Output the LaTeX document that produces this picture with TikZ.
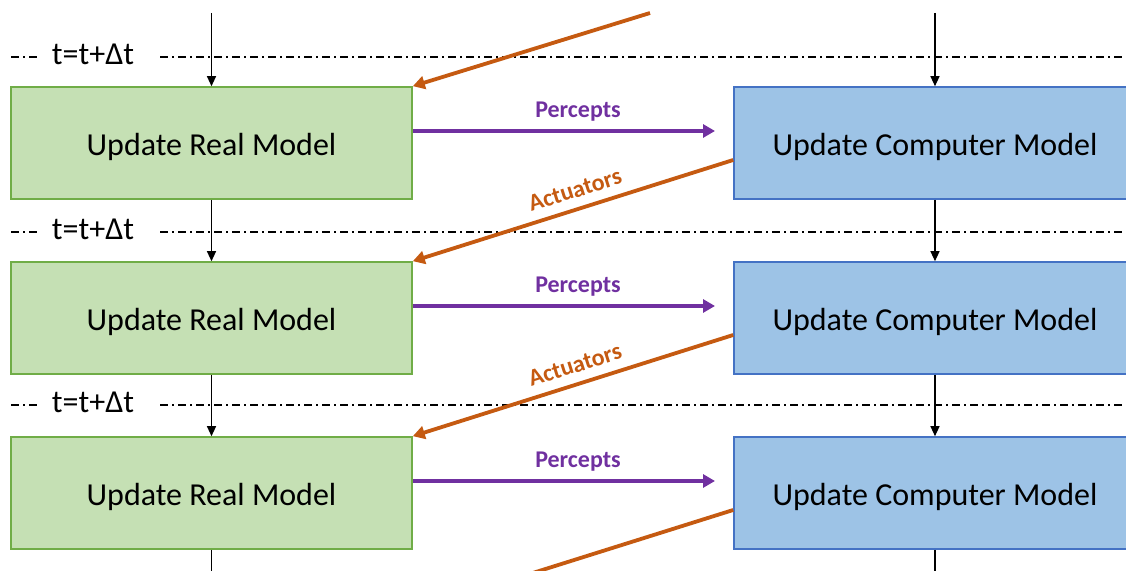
\documentclass[tikz,border=0pt]{standalone}
\usepackage{fontspec}
\setmainfont{Carlito}
\usetikzlibrary{arrows.meta,calc}
\definecolor{gfill}{HTML}{C5E0B4}
\definecolor{gdraw}{HTML}{70AD47}
\definecolor{bfill}{HTML}{9DC3E6}
\definecolor{bdraw}{HTML}{4472C4}
\definecolor{perc}{HTML}{7030A0}
\definecolor{actc}{HTML}{C55A11}
\begin{document}
\begin{tikzpicture}[x=0.5pt,y=-0.5pt,
  realbox/.style={draw=gdraw,fill=gfill,line width=0.8pt,minimum width=200.5pt,minimum height=56pt,inner sep=0pt,text height=16pt,text depth=3pt,font=\fontsize{16}{19}\selectfont},
  compbox/.style={draw=bdraw,fill=bfill,line width=0.8pt,minimum width=201pt,minimum height=56pt,inner sep=0pt,text height=16pt,text depth=3pt,font=\fontsize{16}{19}\selectfont},
  flow/.style={draw=black,line width=0.6pt,-{Triangle[length=5pt,width=4.5pt]}},
  percarrow/.style={draw=perc,line width=1.9pt,-{Triangle[length=6pt,width=6.5pt]}},
  actarrow/.style={draw=actc,line width=1.9pt,-{Triangle[length=6pt,width=6.5pt]}},
  actline/.style={draw=actc,line width=1.9pt},
  perclabel/.style={text=perc,inner sep=0pt,font=\fontsize{12}{14}\selectfont\bfseries},
  actlabel/.style={text=actc,inner sep=0pt,font=\fontsize{12}{14}\selectfont\bfseries},
  timeline/.style={line width=0.6pt,dash pattern=on 4pt off 2pt on 1pt off 2pt},
  timetext/.style={inner sep=0pt,font=\fontsize{16}{19}\selectfont}
]
\useasboundingbox (0,0) rectangle (1126,571);
\clip (0,0) rectangle (1126,571);

% time lines
\foreach \i/\y in {1/57,2/232,3/405}{
  \draw[timeline] (11,\y) -- (40,\y);
  \draw[timeline] (160,\y) -- (1126,\y);
  \node[timetext] (t\i) at (93,\y-3) {t=t+Δt};
}

% boxes
\foreach \i/\y in {1/143,2/318,3/493}{
  \node[realbox] (g\i) at (211.5,\y) {Update Real Model};
  \node[compbox] (b\i) at (935,\y) {Update Computer Model};
}

% vertical flow
\coordinate (gtop) at (211.5,13);
\coordinate (gbot) at (211.5,580);
\coordinate (btop) at (935,13);
\coordinate (bbot) at (935,580);
\draw[flow] (gtop) -- (g1);
\draw[flow] (g1) -- (g2);
\draw[flow] (g2) -- (g3);
\draw[draw=black,line width=0.6pt] (g3) -- (gbot);
\draw[flow] (btop) -- (b1);
\draw[flow] (b1) -- (b2);
\draw[flow] (b2) -- (b3);
\draw[draw=black,line width=0.6pt] (b3) -- (bbot);

% percepts
\foreach \i/\y in {1/131,2/306,3/481}{
  \coordinate (pe\i) at (715,\y);
  \draw[percarrow] (g\i.east |- pe\i) -- (pe\i);
  \node[perclabel] (p\i) at (578,\y-19) {Percepts};
}

% actuators
\coordinate (atop) at (650,13);
\coordinate (abot) at (520,577);
\draw[actarrow] (atop) -- (g1.north east);
\draw[actarrow] ($(b1.west)+(0,17)$) -- (g2.north east);
\draw[actarrow] ($(b2.west)+(0,17)$) -- (g3.north east);
\draw[actline] ($(b3.west)+(0,17)$) -- (abot);
\node[actlabel,rotate=17.6] (a1) at (575,190) {Actuators};
\node[actlabel,rotate=17.6] (a2) at (575,365) {Actuators};
\end{tikzpicture}
\end{document}
